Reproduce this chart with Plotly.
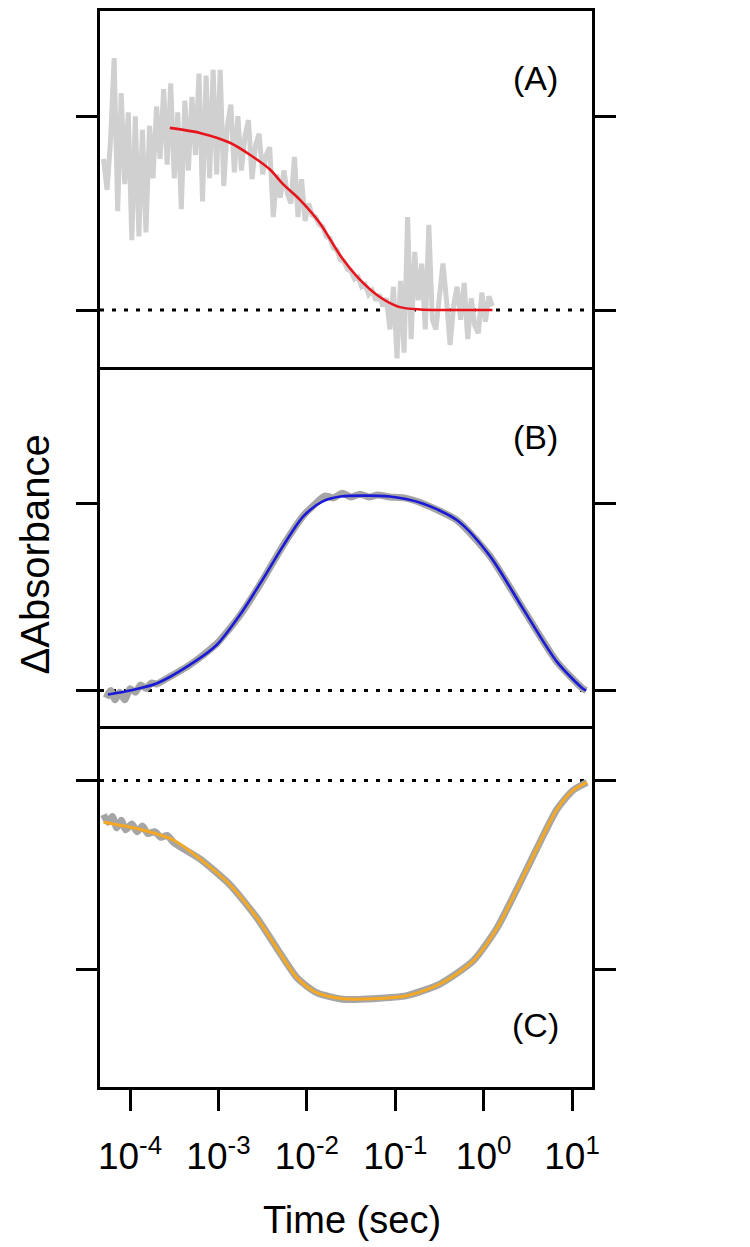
import plotly.graph_objects as go
from plotly.subplots import make_subplots

# ---------------- data ----------------
# Panel A: raw (noisy) trace, log10(time / s) and dAbs (arb. units, tick at 0 and 1)
logt_A_raw = [-4.30, -4.26, -4.22, -4.18, -4.14, -4.10, -4.06, -4.02, -3.98, -3.94,
              -3.90, -3.86, -3.82, -3.78, -3.74, -3.70, -3.66, -3.62, -3.58, -3.54,
              -3.50, -3.46, -3.42, -3.38, -3.34, -3.30, -3.26, -3.22, -3.18, -3.14,
              -3.10, -3.06, -3.02, -2.98, -2.94, -2.90, -2.86, -2.82, -2.78, -2.74,
              -2.70, -2.66, -2.62, -2.58, -2.54, -2.50, -2.46, -2.42, -2.38, -2.34,
              -2.30, -2.26, -2.22, -2.18, -2.14, -2.10, -2.06, -2.02, -1.98, -1.94,
              -1.90, -1.86, -1.82, -1.78, -1.74, -1.70, -1.66, -1.62, -1.58, -1.54,
              -1.50, -1.46, -1.42, -1.38, -1.34, -1.30, -1.26, -1.22, -1.18, -1.14,
              -1.10, -1.06, -1.02, -0.98, -0.94, -0.90, -0.86, -0.82, -0.78, -0.74,
              -0.70, -0.66, -0.62, -0.58, -0.54, -0.50, -0.46, -0.42, -0.38, -0.34,
              -0.30, -0.26, -0.22, -0.18, -0.14, -0.10, -0.06, -0.02, 0.02, 0.06,
              0.10]
A_raw = [0.78, 0.62, 0.88, 1.30, 0.51, 1.12, 0.65, 1.02, 0.36, 1.00,
         0.38, 0.93, 0.40, 0.95, 0.68, 1.05, 0.78, 1.14, 0.75, 1.17,
         0.68, 1.02, 0.52, 1.08, 0.72, 1.10, 0.80, 1.22, 0.56, 1.21,
         0.68, 1.24, 0.70, 1.24, 0.64, 0.95, 1.06, 0.71, 1.00, 0.72,
         0.90, 0.98, 0.675, 0.85, 0.91, 0.70, 0.80, 0.84, 0.48, 0.70,
         0.58, 0.72, 0.60, 0.55, 0.79, 0.48, 0.675, 0.46, 0.55, 0.49,
         0.48, 0.44, 0.43, 0.38, 0.37, 0.32, 0.31, 0.26, 0.25, 0.21,
         0.20, 0.16, 0.17, 0.12, 0.13, 0.08, 0.10, 0.05, 0.08, 0.02,
         0.06, -0.10, 0.12, -0.25, 0.15, -0.22, 0.48, -0.15, 0.30, 0.05,
         0.24, -0.10, 0.44, -0.05, -0.10, 0.10, 0.24, 0.05, -0.18, 0.02,
         0.12, -0.05, 0.14, -0.15, 0.06, -0.08, -0.12, 0.09, -0.06, 0.07,
         0.02]
# Panel A: fit
logt_A_fit = [-3.55, -3.21, -2.87, -2.64, -2.42, -2.27, -2.08, -1.85, -1.62, -1.40,
              -1.17, -0.95, -0.72, -0.49, -0.20, 0.10]
A_fit = [0.94, 0.914, 0.863, 0.80, 0.726, 0.65, 0.57, 0.447, 0.28, 0.157,
         0.066, 0.015, 0.003, 0.0, 0.0, 0.0]

# Panel B: raw trace and fit
logt_B_raw = [-4.27, -4.22, -4.17, -4.12, -4.06, -4.00, -3.94, -3.88, -3.82, -3.76,
              -3.70, -3.60, -3.32, -3.02, -2.76, -2.50, -2.27, -2.04, -1.90, -1.80,
              -1.70, -1.60, -1.50, -1.40, -1.30, -1.20, -1.06, -0.90, -0.69, -0.30,
              0.07, 0.45, 0.83, 1.12, 1.16]
B_raw = [-0.04, 0.00, -0.05, -0.01, -0.05, 0.01, -0.01, 0.03, 0.01, 0.04,
         0.035, 0.06, 0.138, 0.25, 0.40, 0.59, 0.775, 0.935, 1.00, 1.04,
         1.03, 1.055, 1.035, 1.05, 1.035, 1.045, 1.035, 1.03, 1.00, 0.91,
         0.72, 0.434, 0.153, 0.011, 0.0]
logt_B_fit = [-4.25, -4.00, -3.70, -3.32, -3.02, -2.76, -2.50, -2.27, -2.04, -1.82,
              -1.62, -1.06, -0.69, -0.30, 0.07, 0.45, 0.83, 1.12, 1.16]
B_fit = [-0.021, 0.0, 0.037, 0.138, 0.243, 0.402, 0.593, 0.772, 0.931, 1.011,
         1.037, 1.037, 1.0, 0.91, 0.72, 0.434, 0.153, 0.011, 0.0]

# Panel C: raw trace and fit (tick at 0 and -1)
logt_C_raw = [-4.30, -4.25, -4.20, -4.15, -4.10, -4.05, -3.98, -3.92, -3.86, -3.80,
              -3.72, -3.65, -3.58, -3.50, -3.21, -2.87, -2.56, -2.34, -2.11, -1.89,
              -1.59, -1.25, -0.87, -0.49, -0.12, 0.15, 0.38, 0.60, 0.83, 1.01,
              1.17]
C_raw = [-0.18, -0.22, -0.19, -0.25, -0.21, -0.26, -0.23, -0.27, -0.24, -0.28,
         -0.27, -0.30, -0.29, -0.33, -0.414, -0.55, -0.728, -0.885, -1.042, -1.12,
         -1.155, -1.152, -1.136, -1.073, -0.953, -0.78, -0.571, -0.361, -0.152, -0.052,
         -0.01]
logt_C_fit = [-4.30, -3.89, -3.51, -3.21, -2.87, -2.56, -2.34, -2.11, -1.89, -1.59,
              -1.25, -0.87, -0.49, -0.12, 0.15, 0.38, 0.60, 0.83, 1.01, 1.17]
C_fit = [-0.220, -0.257, -0.314, -0.414, -0.550, -0.728, -0.885, -1.042, -1.120, -1.152,
         -1.152, -1.136, -1.073, -0.953, -0.780, -0.571, -0.361, -0.152, -0.052, -0.010]

x_tickvals = [1e-4, 1e-3, 1e-2, 1e-1, 1e0, 1e1]
x_ticktext = ["10<sup>-4</sup>", "10<sup>-3</sup>", "10<sup>-2</sup>",
              "10<sup>-1</sup>", "10<sup>0</sup>", "10<sup>1</sup>"]
panel_labels = ["(A)", "(B)", "(C)"]

# ---------------- figure ----------------
FONT = "Liberation Sans, Arial, sans-serif"
OFF = 8                      # page body margin in the browser
W, H = 750 - OFF, 1247 - OFF
PL, PR, PT, PB = 100, 592, 4, 1087          # plot box in page pixels
L = PL - OFF
R = W - (PR - OFF)
T = 0
B = H - (PB - OFF)
plot_h = H - T - B
plot_w = W - L - R


def py(page_y):
    """page pixel y -> paper y"""
    return (H - B - (page_y - OFF)) / plot_h


def px(page_x):
    return (page_x - OFF - L) / plot_w


def ydom(top_px, bot_px):
    return [max(0.0, py(bot_px)), min(1.0, py(top_px))]


def to_t(logs):
    return [10 ** v for v in logs]


fig = make_subplots(rows=3, cols=1, shared_xaxes=True, vertical_spacing=0)

gray_A = "rgb(208,208,208)"
gray_BC = "rgb(165,165,165)"

fig.add_trace(go.Scatter(x=to_t(logt_A_raw), y=A_raw, mode="lines",
                         line=dict(color=gray_A, width=5), showlegend=False), row=1, col=1)
fig.add_trace(go.Scatter(x=to_t(logt_A_fit), y=A_fit, mode="lines",
                         line=dict(color="rgb(232,20,28)", width=2.6, shape="spline", smoothing=0.7),
                         showlegend=False), row=1, col=1)
fig.add_trace(go.Scatter(x=to_t(logt_B_raw), y=B_raw, mode="lines",
                         line=dict(color=gray_BC, width=7, shape="spline", smoothing=0.6),
                         showlegend=False), row=2, col=1)
fig.add_trace(go.Scatter(x=to_t(logt_B_fit), y=B_fit, mode="lines",
                         line=dict(color="rgb(25,25,215)", width=2.6, shape="spline", smoothing=0.8),
                         showlegend=False), row=2, col=1)
fig.add_trace(go.Scatter(x=to_t(logt_C_raw), y=C_raw, mode="lines",
                         line=dict(color=gray_BC, width=7, shape="spline", smoothing=0.6),
                         showlegend=False), row=3, col=1)
fig.add_trace(go.Scatter(x=to_t(logt_C_fit), y=C_fit, mode="lines",
                         line=dict(color="rgb(245,168,35)", width=3, shape="spline", smoothing=0.8),
                         showlegend=False), row=3, col=1)

# zero lines (dotted)
for r in (1, 2, 3):
    fig.add_hline(y=0, line=dict(color="black", width=3, dash="4px,8px"), row=r, col=1, layer="below")

# panel geometry (page pixels from top)
doms = [ydom(4, 365), ydom(368, 725), ydom(728, 1087)]
yranges = [[-0.294, 1.543], [-0.19, 1.714], [-1.618, 0.272]]
ytickvals = [[0, 1], [0, 1], [0, -1]]

xr = [-4.34, 1.226]
for i in range(3):
    xa = "xaxis" if i == 0 else f"xaxis{i+1}"
    ya = "yaxis" if i == 0 else f"yaxis{i+1}"
    fig.layout[ya].update(domain=doms[i], range=yranges[i], tickvals=ytickvals[i],
                          showticklabels=False, ticks="outside", ticklen=21, tickwidth=2.5,
                          tickcolor="black", showline=True, linecolor="black", linewidth=2.5,
                          mirror="ticks", showgrid=False, zeroline=False)
    fig.layout[xa].update(type="log", range=xr, showline=True, linecolor="black", linewidth=2.5,
                          mirror=True, showgrid=False, zeroline=False)
    if i < 2:
        fig.layout[xa].update(ticks="", showticklabels=False)
    else:
        fig.layout[xa].update(tickvals=x_tickvals, ticktext=x_ticktext, ticks="outside",
                              ticklen=21, tickwidth=2.5, tickcolor="black", ticklabelstandoff=14,
                              tickfont=dict(family=FONT, size=37, color="black"))

# panel labels
for lab, yy in zip(panel_labels, [75, 435, 1025]):
    fig.add_annotation(text=lab, xref="paper", yref="paper", x=px(535), y=py(yy),
                       xanchor="center", yanchor="middle", showarrow=False,
                       font=dict(family=FONT, size=34, color="black"))

# axis titles
fig.add_annotation(text="ΔAbsorbance", xref="paper", yref="paper",
                   x=px(35), y=py(553), textangle=-90,
                   xanchor="center", yanchor="middle", showarrow=False,
                   font=dict(family=FONT, size=40, color="black"))
fig.add_annotation(text="Time (sec)", xref="paper", yref="paper",
                   x=px(352), y=py(1220),
                   xanchor="center", yanchor="middle", showarrow=False,
                   font=dict(family=FONT, size=38, color="black"))

fig.update_layout(width=W, height=H, margin=dict(l=L, r=R, t=T, b=B),
                  paper_bgcolor="white", plot_bgcolor="white", showlegend=False)

fig.write_html("out.html")
